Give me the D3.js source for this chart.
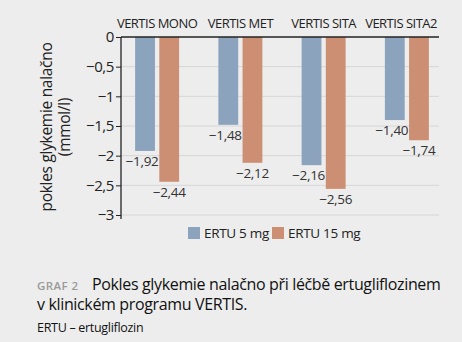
<!DOCTYPE html>
<html><head><meta charset="utf-8">
<script src="https://cdn.jsdelivr.net/npm/d3@7"></script>
<style>
html,body{margin:0;padding:0;background:#ededed;}
svg{display:block;font-family:"Open Sans","Noto Sans",sans-serif;}
</style></head><body>
<svg id="c" width="462" height="342"></svg>
<script>
const categories = ["VERTIS MONO","VERTIS MET","VERTIS SITA","VERTIS SITA2"];
const seriesNames = ["ERTU 5 mg","ERTU 15 mg"];
const ertu5 = [-1.92,-1.48,-2.16,-1.40];
const ertu15 = [-2.44,-2.12,-2.56,-1.74];
const yTicks = [0,-0.5,-1,-1.5,-2,-2.5,-3];
const yTickLabels = ["0","−0,5","−1","−1,5","−2","−2,5","−3"];
const colors = ["#8ba3bd","#cc8f73"];

const svg = d3.select("#c");
const axisX = 121, right = 439;
const y = d3.scaleLinear().domain([0,-3]).range([37,215]);
const x = d3.scaleBand().domain(categories).range([115.5,448.5]);
const x1 = d3.scaleBand().domain(seriesNames).range([-22,22]).paddingInner(0.18);
const fmt = v => d3.format(".2f")(v).replace(".",",").replace("-","−");

// grid
svg.append("g").selectAll("line").data(yTicks.slice(1)).join("line")
  .attr("x1",axisX).attr("x2",right).attr("y1",d=>y(d)).attr("y2",d=>y(d))
  .attr("stroke","#d6d6d6").attr("stroke-width",1);

// bars
const series = [ertu5, ertu15];
series.forEach((vals,si)=>{
  svg.append("g").selectAll("rect").data(vals).join("rect")
    .attr("x",(d,i)=>x(categories[i])+x.bandwidth()/2+x1(seriesNames[si]))
    .attr("width",x1.bandwidth())
    .attr("y",y(0)).attr("height",d=>y(d)-y(0))
    .attr("fill",colors[si]);
  svg.append("g").selectAll("text").data(vals).join("text")
    .attr("x",(d,i)=>x(categories[i])+x.bandwidth()/2+x1(seriesNames[si])+x1.bandwidth()/2 - (si===0?3:0))
    .attr("y",d=>y(d)+15)
    .attr("text-anchor","middle").attr("font-size",13.5).attr("letter-spacing",-0.3).attr("fill","#333")
    .text(d=>fmt(d));
});

// y axis
const yAxis = d3.axisLeft(y).tickValues(yTicks).tickFormat((d,i)=>yTickLabels[i]).tickSize(5).tickSizeOuter(0);
const ga = svg.append("g").attr("transform",`translate(${axisX},0)`).call(yAxis);
ga.select(".domain").attr("d","M0,37V219").attr("stroke","#222").attr("stroke-width",1.3);
ga.selectAll(".tick line").attr("stroke","#222");
ga.selectAll(".tick text").attr("font-size",15).attr("letter-spacing",-0.4).attr("fill","#222").attr("font-family","Open Sans, sans-serif").attr("x",-7);

// top line
svg.append("line").attr("x1",axisX).attr("x2",right).attr("y1",y(0)).attr("y2",y(0))
  .attr("stroke","#222").attr("stroke-width",1.3);

// category labels
svg.append("g").selectAll("text").data(categories).join("text")
  .attr("x",(d,i)=> i===3 ? right-2 : x(d)+x.bandwidth()/2)
  .attr("text-anchor",(d,i)=> i===3 ? "end" : "middle")
  .attr("y",28).attr("font-size",13).attr("letter-spacing",-0.5).attr("fill","#222").text(d=>d);

// y label
const yl = svg.append("text").attr("transform","translate(55,127) rotate(-90)")
  .attr("text-anchor","middle").attr("font-size",15.5).attr("letter-spacing",-0.3).attr("fill","#222");
yl.append("tspan").attr("x",0).attr("dy",-3).text("pokles glykemie nalačno");
yl.append("tspan").attr("x",0).attr("dy",18).text("(mmol/l)");

// legend
const leg = [{x:188},{x:272}];
seriesNames.forEach((s,i)=>{
  svg.append("rect").attr("x",leg[i].x).attr("y",227).attr("width",12).attr("height",12).attr("fill",colors[i]);
  svg.append("text").attr("x",leg[i].x+16).attr("y",238).attr("font-size",13.5).attr("letter-spacing",-0.3).attr("fill","#222").text(s);
});

// caption
svg.append("text").attr("x",37).attr("y",290).attr("font-size",11.5).attr("font-weight","600").attr("letter-spacing",0.4).attr("fill","#9a9a9a").text("GRAF 2");
svg.append("text").attr("x",92).attr("y",290).attr("font-size",16).attr("letter-spacing",-0.35).attr("fill","#111").text("Pokles glykemie nalačno při léčbě ertugliflozinem");
svg.append("text").attr("x",37).attr("y",310).attr("font-size",16).attr("letter-spacing",-0.35).attr("fill","#111").text("v klinickém programu VERTIS.");
svg.append("text").attr("x",37).attr("y",332).attr("font-size",12.5).attr("letter-spacing",-0.3).attr("fill","#111").text("ERTU – ertugliflozin");
</script></body></html>
